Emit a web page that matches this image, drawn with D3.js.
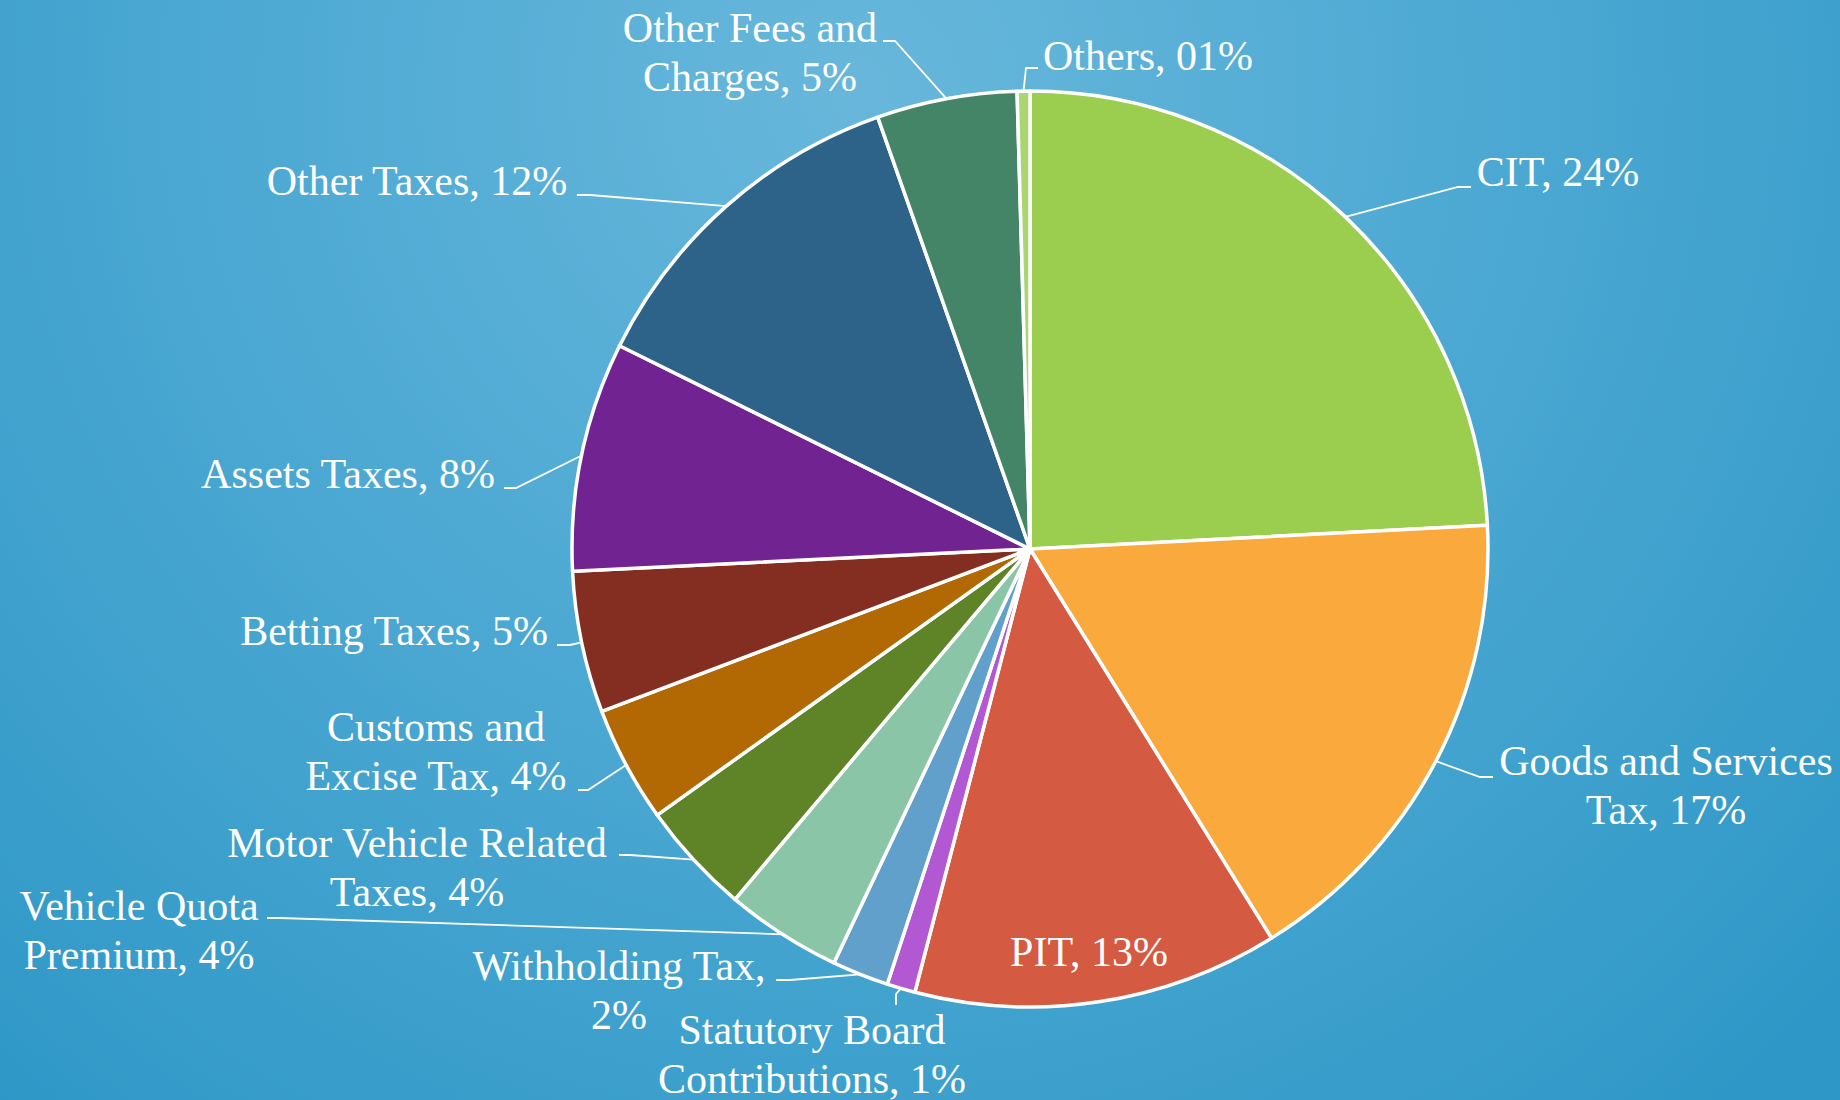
<!DOCTYPE html>
<html lang="en">
<head>
  <meta charset="UTF-8">
  <title>Revenue composition</title>
  <script src="https://d3js.org/d3.v7.min.js"></script>
  <style>
    html, body { margin: 0; padding: 0; }
    body { width: 1840px; height: 1100px; overflow: hidden; }
    text {
      fill: #fff;
      font-family: "Liberation Serif", "Times New Roman", serif;
      font-size: 42px;
    }
    .leader { fill: none; stroke: #fff; stroke-width: 1.8px; }
  </style>
</head>
<body>
<div class="canvas"></div>
<script>
  // slice order as in the chart: clockwise from 12 o'clock
  const categories = [
    "CIT", "Goods and Services Tax", "PIT", "Statutory Board Contributions",
    "Withholding Tax", "Vehicle Quota Premium", "Motor Vehicle Related Taxes",
    "Customs and Excise Tax", "Betting Taxes", "Assets Taxes", "Other Taxes",
    "Other Fees and Charges", "Others"
  ];
  const values = [24.2, 17.0, 12.9, 1.0, 2.0, 4.1, 4.0, 4.1, 5.0, 8.1, 12.3, 4.95, 0.45];
  const labelLines = [
    ["CIT, 24%"],
    ["Goods and Services", "Tax, 17%"],
    ["PIT, 13%"],
    ["Statutory Board", "Contributions, 1%"],
    ["Withholding Tax,", "2%"],
    ["Vehicle Quota", "Premium, 4%"],
    ["Motor Vehicle Related", "Taxes, 4%"],
    ["Customs and", "Excise Tax, 4%"],
    ["Betting Taxes, 5%"],
    ["Assets Taxes, 8%"],
    ["Other Taxes, 12%"],
    ["Other Fees and", "Charges, 5%"],
    ["Others, 01%"]
  ];
  const colors = [
    "#9bcd4e", "#faa93c", "#d45a42", "#b158d2", "#62a0cc", "#8bc5a7", "#5e8427",
    "#b26904", "#842e21", "#702391", "#2d6388", "#458567", "#a9d672"
  ];

  // label placement (text centre x, first baseline y, leader elbow and end)
  const labelLayout = [
    { x: 1558, y: 186, anchor: "middle", elbow: [1458, 187], end: [1471, 187] },
    { x: 1666, y: 775, anchor: "middle", elbow: [1480, 777], end: [1493, 777] },
    { x: 1089, y: 966, anchor: "middle" },
    { x: 812, y: 1044, anchor: "middle", elbow: [896, 994], end: [896, 1005] },
    { x: 619, y: 980, anchor: "middle", elbow: [790, 980], end: [776, 980] },
    { x: 139, y: 920, anchor: "middle", elbow: [280, 918], end: [267, 918] },
    { x: 417, y: 857, anchor: "middle", elbow: [630, 855], end: [619, 855] },
    { x: 436, y: 741, anchor: "middle", elbow: [588, 790], end: [578, 790] },
    { x: 394, y: 645, anchor: "middle", elbow: [570, 645], end: [557, 645] },
    { x: 348, y: 488, anchor: "middle", elbow: [516, 488], end: [504, 488] },
    { x: 417, y: 195, anchor: "middle", elbow: [590, 195], end: [577, 195] },
    { x: 750, y: 42, anchor: "middle", elbow: [895, 41], end: [883, 41] },
    { x: 1043, y: 70, anchor: "start", elbow: [1026, 68], end: [1038, 68] }
  ];

  const width = 1840, height = 1100;
  const cx = 1030, cy = 549, radius = 458;
  const lineHeight = 49;

  const svg = d3.select(".canvas")
    .append("svg")
    .attr("width", width)
    .attr("height", height);

  // background
  const grad = svg.append("defs").append("radialGradient")
    .attr("id", "bg")
    .attr("gradientUnits", "userSpaceOnUse")
    .attr("cx", 860).attr("cy", 90).attr("r", 1350);
  [[0, "#68b7db"], [0.3, "#56aed6"], [0.62, "#44a4cf"], [1, "#2e97c7"]].forEach(s => {
    grad.append("stop").attr("offset", s[0]).attr("stop-color", s[1]);
  });
  svg.append("rect").attr("width", width).attr("height", height).attr("fill", "url(#bg)");

  const pie = d3.pie().sort(null).value(d => d);
  const arcs = pie(values);

  const arc = d3.arc().innerRadius(0).outerRadius(radius);
  const edge = d3.arc().innerRadius(radius).outerRadius(radius);

  const g = svg.append("g").attr("transform", `translate(${cx},${cy})`);

  g.selectAll("path.slice")
    .data(arcs)
    .enter()
    .append("path")
    .attr("class", "slice")
    .attr("d", arc)
    .attr("fill", (d, i) => colors[i])
    .attr("stroke", "#fff")
    .attr("stroke-width", 3.5)
    .attr("stroke-linejoin", "round");

  // leader lines: from the slice edge at mid-angle to the label
  const line = d3.line();
  arcs.forEach((d, i) => {
    const L = labelLayout[i];
    if (!L.elbow) return;
    const p = edge.centroid(d);
    svg.append("path")
      .attr("class", "leader")
      .attr("d", line([[cx + p[0], cy + p[1]], L.elbow, L.end]));
  });

  // labels
  arcs.forEach((d, i) => {
    const L = labelLayout[i];
    const t = svg.append("text")
      .attr("text-anchor", L.anchor)
      .attr("x", L.x)
      .attr("y", L.y);
    labelLines[i].forEach((s, k) => {
      t.append("tspan")
        .attr("x", L.x)
        .attr("dy", k === 0 ? 0 : lineHeight)
        .text(s);
    });
  });
</script>
</body>
</html>
